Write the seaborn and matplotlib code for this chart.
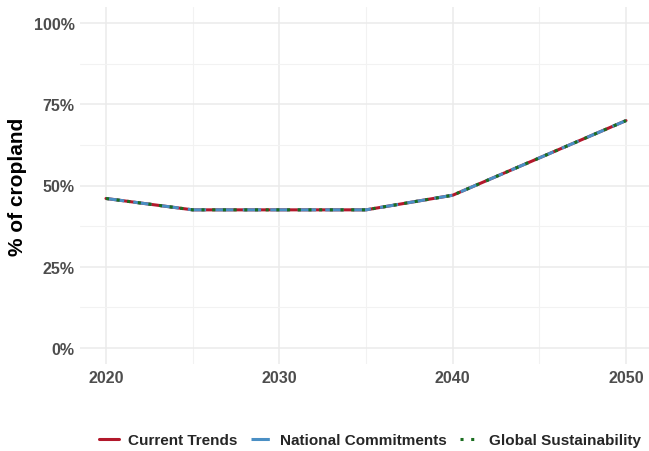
import pandas as pd
import matplotlib.pyplot as plt
import seaborn as sns
from matplotlib.ticker import MultipleLocator, PercentFormatter
from matplotlib.lines import Line2D

# data
years = [2020, 2025, 2030, 2035, 2040, 2050]
current_trends = [46, 42.5, 42.5, 42.5, 47, 70]
national_commitments = [46, 42.5, 42.5, 42.5, 47, 70]
global_sustainability = [46, 42.5, 42.5, 42.5, 47, 70]

scenarios = ['Current Trends', 'National Commitments', 'Global Sustainability']
colors = ['#B2182B', '#4A8FC4', '#1B6E20']

df = pd.concat([
    pd.DataFrame({'year': years, 'value': current_trends, 'scenario': scenarios[0]}),
    pd.DataFrame({'year': years, 'value': national_commitments, 'scenario': scenarios[1]}),
    pd.DataFrame({'year': years, 'value': global_sustainability, 'scenario': scenarios[2]}),
])

sns.set_theme(style='whitegrid')
plt.rcParams['font.family'] = ['Liberation Sans', 'DejaVu Sans']

fig = plt.figure(figsize=(6.49, 4.52), dpi=100)
ax = fig.add_axes([80 / 649, 1 - 365 / 452, 572 / 649, 357 / 452])

linestyles = ['-', (0, (6, 3)), (0, (1, 2.5))]
for name, col, ls in zip(scenarios, colors, linestyles):
    sns.lineplot(data=df[df['scenario'] == name], x='year', y='value', ax=ax,
                 color=col, linestyle=ls, linewidth=2.2, legend=False)

ax.set_xlim(2018.5, 2051.5)
ax.set_ylim(-5, 105)
ax.xaxis.set_major_locator(MultipleLocator(10))
ax.xaxis.set_minor_locator(MultipleLocator(5))
ax.yaxis.set_major_locator(MultipleLocator(25))
ax.yaxis.set_minor_locator(MultipleLocator(12.5))
ax.yaxis.set_major_formatter(PercentFormatter(decimals=0))

ax.grid(which='major', color='#EBEBEB', linewidth=1.1)
ax.grid(which='minor', color='#F2F2F2', linewidth=0.8)
for s in ax.spines.values():
    s.set_visible(False)
ax.tick_params(which='both', length=0)
ax.tick_params(axis='both', labelsize=11.5, labelcolor='#4D4D4D', pad=4)
for lab in ax.get_xticklabels() + ax.get_yticklabels():
    lab.set_fontweight('bold')

ax.set_xlabel('')
ax.set_ylabel('% of cropland', fontsize=15, fontweight='bold', color='black', labelpad=5)

handles = [Line2D([0], [0], color=c, linestyle=ls, linewidth=2.2)
           for c, ls in zip(colors, linestyles)]
fig.legend(handles, scenarios, loc='center', bbox_to_anchor=(370 / 649, 1 - 441 / 452),
           ncol=3, frameon=False, prop={'weight': 'bold', 'size': 11},
           handlelength=1.3, handletextpad=0.6, columnspacing=0.9)

plt.savefig('out.png', dpi=100)
